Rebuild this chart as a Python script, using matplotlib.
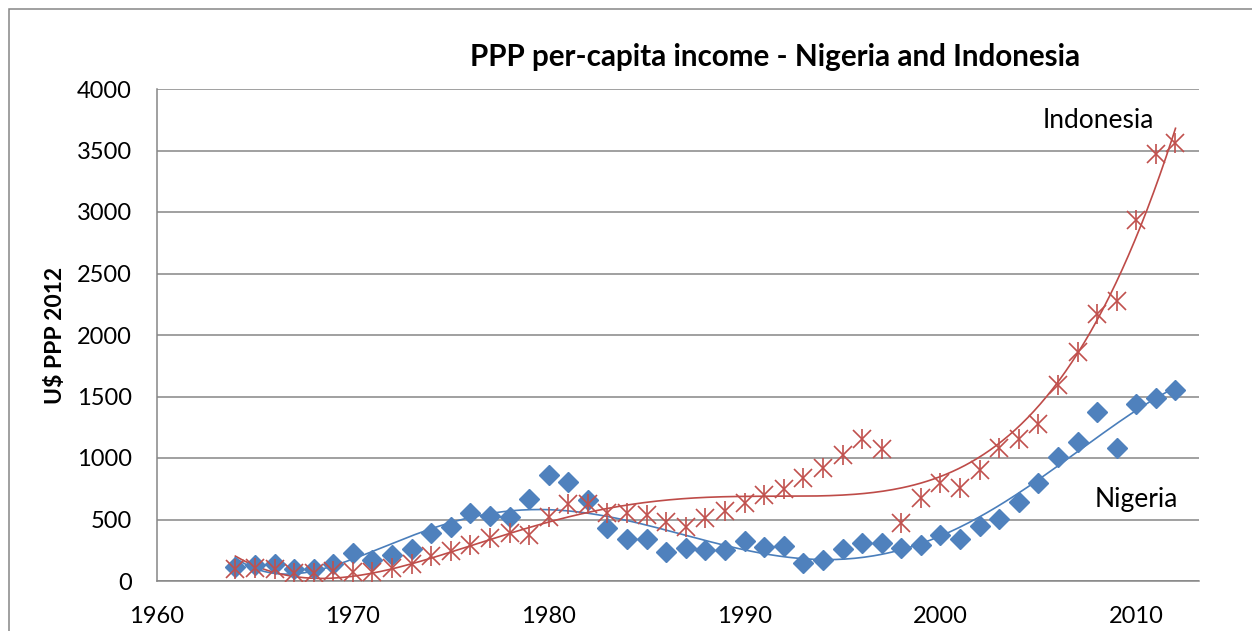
import numpy as np
import matplotlib
matplotlib.use('Agg')
import matplotlib.pyplot as plt
from matplotlib.patches import Rectangle

plt.rcParams['font.family'] = ['Lato', 'DejaVu Sans']

# data (US$ PPP 2012)
years = np.arange(1964, 2013)
nigeria = [111, 130, 138, 98, 98, 138, 225, 171, 211, 258,
           393, 437, 550, 528, 523, 667, 862, 802, 658, 434,
           339, 339, 233, 266, 250, 252, 328, 274, 285, 144,
           171, 258, 312, 312, 266, 293, 374, 339, 447, 502,
           640, 800, 1011, 1133, 1371, 1084, 1437, 1486, 1553]
indonesia = [95, 103, 95, 62, 68, 81, 76, 76, 103, 138,
             207, 244, 293, 350, 388, 374, 523, 623, 626, 550,
             550, 536, 482, 442, 509, 570, 637, 699, 745, 835,
             921, 1024, 1152, 1071, 469, 672, 794, 754, 902, 1079,
             1156, 1274, 1593, 1864, 2171, 2276, 2935, 3471, 3558]

blue = '#4F81BD'
red = '#C0504D'
grey = '#868686'

W, H = 1252, 631
fig = plt.figure(figsize=(W / 100, H / 100), dpi=100)
ax = fig.add_axes([157 / W, 1 - 581 / H, (1199 - 157) / W, (581 - 89) / H])

# excel-style polynomial trendlines
xs = np.linspace(1964, 2012, 300)
for vals, col, deg in [(nigeria, '#4A7EBB', 6), (indonesia, '#BE4B48', 4)]:
    p = np.polyfit(years - 1988, vals, deg)
    ax.plot(xs, np.polyval(p, xs - 1988), color=col, lw=1.2, zorder=3)

ax.plot(years, nigeria, ls='none', marker='D', ms=10, color=blue, mec=blue, zorder=4)
ax.plot(years, indonesia, ls='none', marker='x', ms=13.5, mew=1.2, color=red, zorder=5)
ax.plot(years, indonesia, ls='none', marker='|', ms=14.5, mew=1.2, color=red, zorder=5)

ax.set_xlim(1960, 2013.2)
ax.set_ylim(0, 4000)
ax.set_xticks(range(1960, 2011, 10))
ax.set_yticks(range(0, 4001, 500))
ax.yaxis.grid(True, color=grey, lw=1.1)
ax.set_axisbelow(True)
ax.tick_params(length=0, labelsize=17)
ax.tick_params(axis='y', pad=18)
ax.tick_params(axis='x', pad=18)
for s in ['top', 'right']:
    ax.spines[s].set_visible(False)
for s in ['left', 'bottom']:
    ax.spines[s].set_color(grey)
    ax.spines[s].set_linewidth(1.1)

fig.text(775 / W, 1 - 57 / H, 'PPP per-capita income - Nigeria and Indonesia',
         ha='center', va='center', fontsize=21.3, fontweight='bold')
fig.text(55 / W, 1 - 335 / H, 'U$ PPP 2012', rotation=90, ha='center', va='center',
         fontsize=16.5, fontweight='bold')
fig.text(1043 / W, 1 - 121 / H, 'Indonesia', va='center', fontsize=19)
fig.text(1095 / W, 1 - 500 / H, 'Nigeria', va='center', fontsize=19)

# outer chart-area border (cut off at right and bottom)
fig.patches.append(Rectangle((9 / W, -0.1), 1.2, 1 - 9 / H + 0.1, transform=fig.transFigure,
                             fill=False, ec=grey, lw=1.1))

fig.savefig('out.png', dpi=100)
